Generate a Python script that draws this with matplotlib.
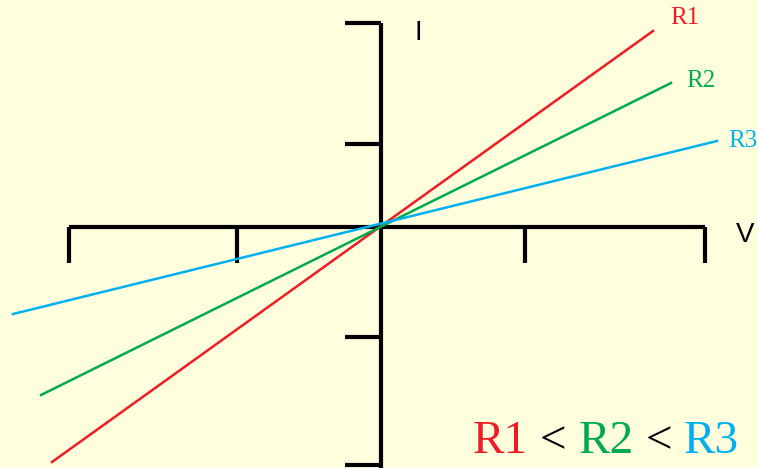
import matplotlib
matplotlib.use('Agg')
import matplotlib.pyplot as plt

# I-V characteristic of three resistors (diagram units, origin at axis crossing)
series_names = ['R1', 'R2', 'R3']
series_colors = ['#EE1C25', '#00AA4F', '#00B0F0']
v_ends = [[-329, 272], [-340, 290], [-368, 336]]
i_ends = [[-235, 196], [-168, 144], [-87, 86]]

v_ticks = [-312, -144, 144, 324]
i_ticks = [204, 83, -110, -238]

bg = '#FFFFDD'
fig = plt.figure(figsize=(7.58, 4.68), dpi=100, facecolor=bg)
ax = fig.add_axes([0, 0, 1, 1])
ax.set_facecolor(bg)
ax.set_xlim(-381, 377)
ax.set_ylim(-241, 227)
ax.axis('off')

# axes + ticks
ax.plot([v_ticks[0], v_ticks[-1]], [0, 0], color='black', lw=3, solid_capstyle='butt')
ax.plot([0, 0], [-241, i_ticks[0]], color='black', lw=3, solid_capstyle='butt')
for t in v_ticks:
    ax.plot([t, t], [0, -36], color='black', lw=3, solid_capstyle='butt')
for t in i_ticks:
    ax.plot([0, -36], [t, t], color='black', lw=3, solid_capstyle='butt')

# resistor lines, label offsets from line end
lab_dx = [17, 15, 11]
lab_dy = [13, 2, 0]
for k in range(3):
    v, i, c = v_ends[k], i_ends[k], series_colors[k]
    ax.plot(v, i, color=c, lw=1.8)
    ax.text(v[1] + lab_dx[k], i[1] + lab_dy[k], series_names[k], color=c, fontsize=18,
            family='Liberation Serif', ha='left', va='center')

ax.text(37, 194, 'I', fontsize=20, family='Liberation Sans', ha='center', va='center')
ax.text(364, -8, 'V', fontsize=20, family='Liberation Sans', ha='center', va='center')

# coloured comparison caption
parts = ['R1', ' < ', 'R2', ' < ', 'R3']
part_colors = [series_colors[0], 'black', series_colors[1], 'black', series_colors[2]]
prev = ax.text(92, -236, parts[0], color=part_colors[0], fontsize=34,
               family='Liberation Serif', ha='left', va='bottom')
for s, c in zip(parts[1:], part_colors[1:]):
    prev = ax.annotate(s, xy=(1, 0), xycoords=prev, color=c, fontsize=34,
                       family='Liberation Serif', ha='left', va='bottom')

fig.savefig('out.png', dpi=100, facecolor=bg)
